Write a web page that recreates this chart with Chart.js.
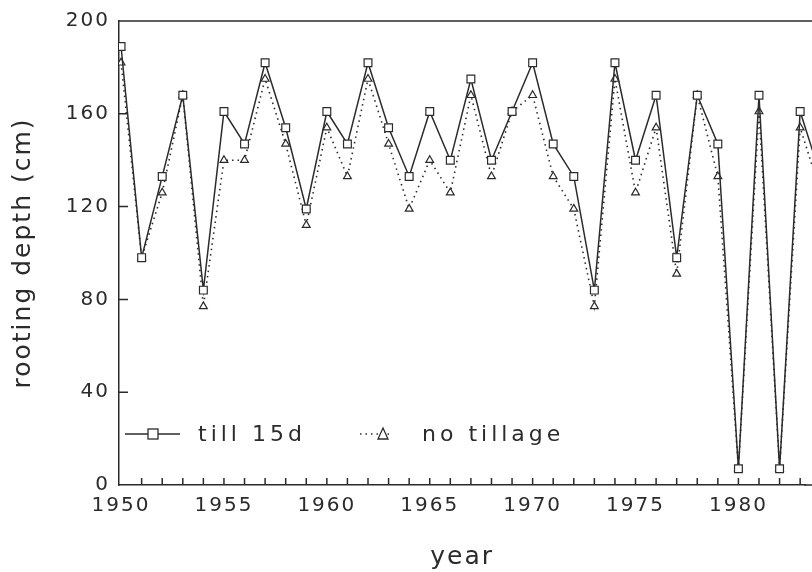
<!DOCTYPE html>
<html>
<head>
<meta charset="utf-8">
<title>rooting depth</title>
<script src="https://cdn.jsdelivr.net/npm/chart.js@4.4.1/dist/chart.umd.min.js"></script>
<style>
html, body { margin: 0; padding: 0; background: #fff; }
#wrap { width: 812px; height: 572px; }
</style>
</head>
<body>
<div id="wrap"><canvas id="rootChart" width="812" height="572"></canvas></div>
<script>
// data (cm)
var years = [1950, 1951, 1952, 1953, 1954, 1955, 1956, 1957, 1958, 1959,
             1960, 1961, 1962, 1963, 1964, 1965, 1966, 1967, 1968, 1969,
             1970, 1971, 1972, 1973, 1974, 1975, 1976, 1977, 1978, 1979,
             1980, 1981, 1982, 1983, 1984];
var till15d = [189, 98, 133, 168, 84, 161, 147, 182, 154, 119,
               161, 147, 182, 154, 133, 161, 140, 175, 140, 161,
               182, 147, 133, 84, 182, 140, 168, 98, 168, 147,
               7, 168, 7, 161, 133];
var noTillage = [182, 98, 126, 168, 77, 140, 140, 175, 147, 112,
                 154, 133, 175, 147, 119, 140, 126, 168, 133, 161,
                 168, 133, 119, 77, 175, 126, 154, 91, 168, 133,
                 7, 161, 7, 154, 126];
var yearLabels = [1950, 1955, 1960, 1965, 1970, 1975, 1980];
var depthTicks = [0, 40, 80, 120, 160, 200];

var ink = '#2b2b2b';
var fontFam = '"DejaVu Sans", sans-serif';

function pts(vals) {
  var out = [];
  for (var i = 0; i < years.length; i++) out.push({ x: years[i], y: vals[i] });
  return out;
}

//-- axis frame, inward tick marks and the legend inside the plot
var framePlugin = {
  id: 'frame',
  beforeUpdate: function (chart) { chart.ctx.letterSpacing = '2px'; },
  beforeDraw: function (chart) { chart.ctx.letterSpacing = '2px'; },
  afterDraw: function (chart) {
    var ctx = chart.ctx;
    var area = chart.chartArea;
    var xs = chart.scales.x;
    var ys = chart.scales.y;
    ctx.save();
    ctx.strokeStyle = ink;
    ctx.lineWidth = 1.5;
    ctx.beginPath();
    // frame runs on past the cropped right edge
    ctx.moveTo(area.left, area.top);
    ctx.lineTo(chart.width, area.top);
    ctx.moveTo(xs.right - 1, area.bottom);
    ctx.lineTo(chart.width, area.bottom);
    // yearly ticks pointing up
    for (var i = 0; i < years.length; i++) {
      var px = xs.getPixelForValue(years[i]);
      if (px <= area.left + 4 || px > chart.width) continue;
      ctx.moveTo(px, area.bottom);
      ctx.lineTo(px, area.bottom - 7);
    }
    // depth ticks pointing right
    for (var j = 0; j < depthTicks.length; j++) {
      var v = depthTicks[j];
      if (v === 0 || v === 200) continue;
      var py = ys.getPixelForValue(v);
      ctx.moveTo(area.left, py);
      ctx.lineTo(area.left + 9, py);
    }
    ctx.stroke();

    // legend
    var ly = area.top + 413;
    var lx = area.left;
    ctx.beginPath();
    ctx.moveTo(lx + 6, ly);
    ctx.lineTo(lx + 61, ly);
    ctx.stroke();
    ctx.fillStyle = '#fff';
    ctx.lineWidth = 1.3;
    ctx.fillRect(lx + 29, ly - 5, 10, 10);
    ctx.strokeRect(lx + 29, ly - 5, 10, 10);

    ctx.lineWidth = 1.6;
    ctx.setLineDash([1.5, 4]);
    ctx.beginPath();
    ctx.moveTo(lx + 241, ly);
    ctx.lineTo(lx + 273, ly);
    ctx.stroke();
    ctx.setLineDash([]);
    ctx.lineWidth = 1.3;
    ctx.beginPath();
    ctx.moveTo(lx + 264, ly - 6);
    ctx.lineTo(lx + 269, ly + 5);
    ctx.lineTo(lx + 259, ly + 5);
    ctx.closePath();
    ctx.fill();
    ctx.stroke();

    ctx.fillStyle = ink;
    ctx.font = '22px ' + fontFam;
    ctx.textBaseline = 'middle';
    ctx.textAlign = 'left';
    ctx.letterSpacing = '4px';
    ctx.fillText('till 15d', lx + 79, ly + 1);
    ctx.fillText('no tillage', lx + 303, ly + 1);
    ctx.restore();
  }
};

var ctx = document.getElementById('rootChart').getContext('2d');
var chart = new Chart(ctx, {
  type: 'line',
  data: {
    datasets: [
      {
        label: 'till 15d',
        data: pts(till15d),
        borderColor: ink,
        borderWidth: 1.5,
        pointStyle: 'rect',
        pointRadius: 5.5,
        pointBorderWidth: 1.2,
        pointBorderColor: ink,
        pointBackgroundColor: '#fff',
        tension: 0,
        clip: { left: 0, top: 0, right: 8, bottom: 0 },
        order: 1
      },
      {
        label: 'no tillage',
        data: pts(noTillage),
        borderColor: ink,
        borderWidth: 1.6,
        borderDash: [1.5, 4],
        pointStyle: 'triangle',
        pointRadius: 4.5,
        pointBorderWidth: 1.2,
        pointBorderColor: ink,
        pointBackgroundColor: '#fff',
        tension: 0,
        clip: { left: 0, top: 0, right: 8, bottom: 0 },
        order: 2
      }
    ]
  },
  options: {
    responsive: false,
    animation: false,
    layout: { padding: { top: 15, left: 0, right: 0, bottom: 0 } },
    plugins: {
      legend: { display: false },
      tooltip: { enabled: false }
    },
    scales: {
      x: {
        type: 'linear',
        min: 1949.9,
        max: 1983.25,
        afterBuildTicks: function (s) {
          s.ticks = yearLabels.map(function (v) { return { value: v }; });
        },
        afterFit: function (s) { s.height = 87; },
        grid: { display: false, drawTicks: false },
        border: { display: true, color: ink, width: 1.5 },
        ticks: {
          padding: 9,
          color: ink,
          font: { family: fontFam, size: 20 },
          maxRotation: 0,
          autoSkip: false,
          callback: function (v) { return String(v); }
        },
        title: {
          display: true,
          text: 'year',
          color: ink,
          font: { family: fontFam, size: 25 },
          padding: { top: 20, bottom: 0 }
        }
      },
      y: {
        type: 'linear',
        min: 0,
        max: 200,
        afterBuildTicks: function (s) {
          s.ticks = depthTicks.map(function (v) { return { value: v }; });
        },
        afterFit: function (s) { s.width = 119; },
        grid: { display: false, drawTicks: false },
        border: { display: true, color: ink, width: 1.5 },
        ticks: {
          padding: 9,
          color: ink,
          font: { family: fontFam, size: 20 }
        },
        title: {
          display: true,
          text: 'rooting depth (cm)',
          color: ink,
          font: { family: fontFam, size: 25 },
          padding: { top: 8, bottom: 0 }
        }
      }
    }
  },
  plugins: [framePlugin]
});
</script>
</body>
</html>
